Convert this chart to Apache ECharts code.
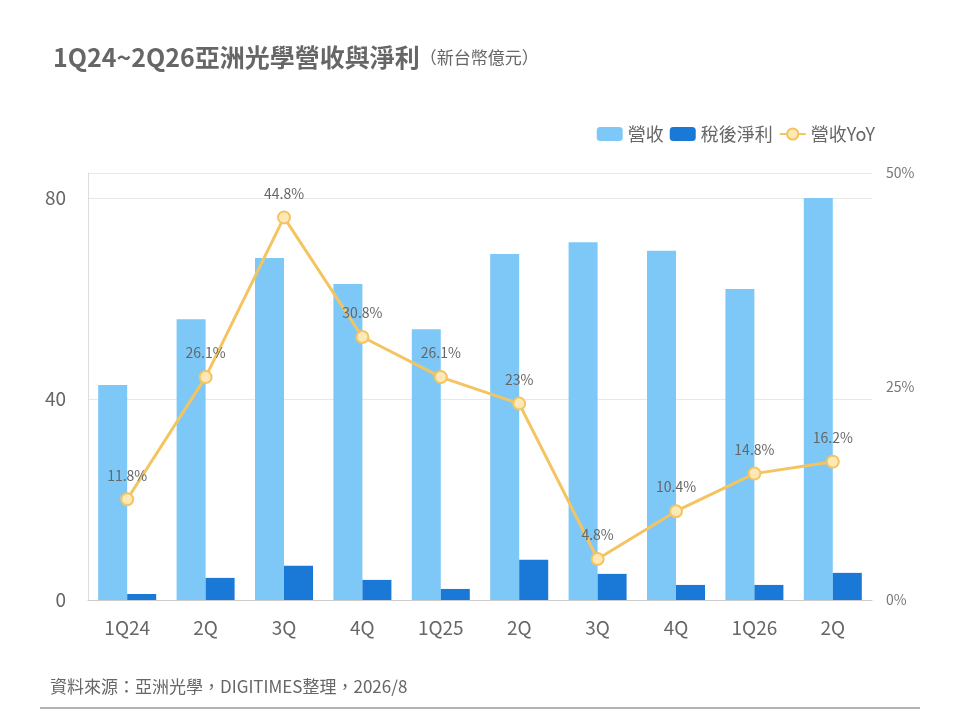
<!DOCTYPE html>
<html lang="zh-Hant">
<head>
<meta charset="UTF-8">
<title>亞洲光學營收與淨利</title>
<script src="https://cdn.jsdelivr.net/npm/echarts@6/dist/echarts.min.js"></script>
<style>
  body { margin: 0; background: #fff; }
  #chart { width: 960px; height: 720px; }
</style>
</head>
<body>
<div id="chart"></div>
<script>
var categories = ['1Q24', '2Q', '3Q', '4Q', '1Q25', '2Q', '3Q', '4Q', '1Q26', '2Q'];
var revenue = [42.8, 55.9, 68.1, 62.9, 53.9, 68.9, 71.2, 69.5, 61.9, 80.0];
var netProfit = [1.2, 4.4, 6.8, 4.0, 2.2, 8.0, 5.2, 3.0, 3.0, 5.4];
var revenueYoY = [11.8, 26.1, 44.8, 30.8, 26.1, 23.0, 4.8, 10.4, 14.8, 16.2];

var font = '"Noto Sans CJK TC", "Noto Sans", sans-serif';
var chart = echarts.init(document.getElementById('chart'));

chart.setOption({
  textStyle: { fontFamily: font },
  title: {
    text: '1Q24~2Q26亞洲光學營收與淨利{s|（新台幣億元）}',
    left: 48, top: 40,
    textStyle: {
      fontSize: 25, fontWeight: 'bold', color: '#666',
      rich: { s: { fontSize: 17, color: '#666', fontWeight: 'normal' } }
    }
  },
  legend: {
    right: 80, top: 120, itemGap: 6, itemWidth: 26, itemHeight: 14,
    textStyle: { fontSize: 18, color: '#666' },
    data: ['營收', '稅後淨利', '營收YoY']
  },
  grid: { left: 88, right: 88, top: 173, bottom: 120 },
  xAxis: {
    type: 'category', data: categories,
    axisLine: { lineStyle: { color: '#ccc' } },
    axisTick: { show: false },
    axisLabel: { fontSize: 19, color: '#666', margin: 18 }
  },
  yAxis: [{
    type: 'value', min: 0, max: 85, interval: 40,
    axisLine: { show: true, lineStyle: { color: '#ddd' } },
    axisLabel: { fontSize: 19, color: '#666', showMaxLabel: false, margin: 22 },
    splitLine: { lineStyle: { color: '#e8e8e8' } }
  }, {
    type: 'value', min: 0, max: 50, interval: 25,
    axisLine: { show: false },
    axisLabel: { fontSize: 14, color: '#777', formatter: '{value}%', margin: 14 },
    splitLine: { show: false }
  }],
  series: [{
    name: '營收', type: 'bar', data: revenue, barWidth: 29, barGap: '0%',
    itemStyle: { color: '#7ec8f8' }
  }, {
    name: '稅後淨利', type: 'bar', data: netProfit, barWidth: 29,
    itemStyle: { color: '#1a78d6' }
  }, {
    name: '營收YoY', type: 'line', yAxisIndex: 1, data: revenueYoY,
    symbol: 'circle', symbolSize: 12,
    lineStyle: { color: '#f3c460', width: 3 },
    itemStyle: { color: '#fde8b6', borderColor: '#f3c460', borderWidth: 2 },
    label: { show: true, position: 'top', distance: 10, formatter: '{c}%', fontSize: 14, color: '#666' }
  }],
  graphic: [{
    type: 'text', left: 50, top: 678,
    style: { text: '資料來源：亞洲光學，DIGITIMES整理，2026/8', fontSize: 17, fill: '#666', fontFamily: font }
  }, {
    type: 'line', shape: { x1: 40, y1: 708, x2: 920, y2: 708 },
    style: { stroke: '#666', lineWidth: 1 }
  }]
});
</script>
</body>
</html>
